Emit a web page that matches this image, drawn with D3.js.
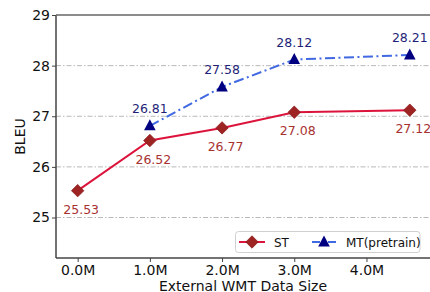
<html>
<head>
  <meta charset="utf-8">
  <script src="https://cdn.jsdelivr.net/npm/d3@7"></script>
  <style>
    body { margin: 0; background: #fff; }
    text { font-family: "DejaVu Sans", sans-serif; }
  </style>
</head>
<body>
<script>
  // data
  const stX = [0, 1, 2, 3, 4.6];
  const stVals = [25.53, 26.52, 26.77, 27.08, 27.12];
  const mtX = [1, 2, 3, 4.6];
  const mtVals = [26.81, 27.58, 28.12, 28.21];
  const xTicks = [0, 1, 2, 3, 4];
  const yTicks = [25, 26, 27, 28, 29];

  const w = 430, h = 292;
  const padL = 56, padT = 15, padB = 258, padR = 430;

  const x = d3.scaleLinear().domain([-0.3, 4.88]).range([padL, padR]);
  const y = d3.scaleLinear().domain([24.2, 29]).range([padB, padT]);

  const svg = d3.select("body").append("svg")
    .attr("width", w).attr("height", h);

  // grid lines (dash-dot)
  svg.selectAll("line.grid")
    .data([25, 26, 27, 28])
    .enter().append("line")
    .attr("class", "grid")
    .attr("x1", padL).attr("x2", padR)
    .attr("y1", d => y(d)).attr("y2", d => y(d))
    .attr("stroke", "#b8b8b8")
    .attr("stroke-width", 1)
    .attr("stroke-dasharray", "5,2,1.5,2");

  // axes
  const xAxis = svg.append("g")
    .attr("transform", "translate(0," + padB + ")")
    .call(d3.axisBottom(x).tickValues(xTicks).tickFormat(d => d.toFixed(1) + "M").tickSize(4).tickPadding(3));
  const yAxis = svg.append("g")
    .attr("transform", "translate(" + padL + ",0)")
    .call(d3.axisLeft(y).tickValues(yTicks).tickFormat(d3.format("d")).tickSize(4).tickPadding(2));
  [xAxis, yAxis].forEach(function(g) {
    g.select(".domain").attr("stroke", "#444").attr("stroke-width", 1.5);
    g.selectAll(".tick line").attr("stroke", "#444");
    g.selectAll(".tick text").attr("font-size", "14px").attr("fill", "#111")
      .attr("font-family", "DejaVu Sans, sans-serif");
  });
  xAxis.select(".domain").attr("d", "M" + padL + ",0H" + padR);
  yAxis.select(".domain").attr("d", "M0," + padT + "V" + padB);

  // top spine
  svg.append("line")
    .attr("x1", padL).attr("x2", padR)
    .attr("y1", padT).attr("y2", padT)
    .attr("stroke", "#666").attr("stroke-width", 1.5);

  // axis labels
  svg.append("text")
    .attr("x", (padL + padR) / 2).attr("y", 290.5)
    .attr("text-anchor", "middle").attr("font-size", "14px").attr("fill", "#111")
    .text("External WMT Data Size");
  svg.append("text")
    .attr("transform", "translate(25," + (padT + padB) / 2 + ") rotate(-90)")
    .attr("text-anchor", "middle").attr("font-size", "14px").attr("fill", "#111")
    .text("BLEU");

  const line = d3.line().x(d => x(d[0])).y(d => y(d[1]));
  const stData = stX.map((d, i) => [d, stVals[i]]);
  const mtData = mtX.map((d, i) => [d, mtVals[i]]);

  // MT line
  svg.append("path")
    .datum(mtData)
    .attr("d", line)
    .attr("fill", "none")
    .attr("stroke", "#4169e1")
    .attr("stroke-width", 2)
    .attr("stroke-dasharray", "10,3.5,2,3.5");

  // ST line
  svg.append("path")
    .datum(stData)
    .attr("d", line)
    .attr("fill", "none")
    .attr("stroke", "#dc143c")
    .attr("stroke-width", 2);

  const diamond = "M0,-6.2L6.2,0L0,6.2L-6.2,0Z";
  const triangle = "M0,-6.5L5.8,4.5L-5.8,4.5Z";

  svg.selectAll("path.mt")
    .data(mtData)
    .enter().append("path")
    .attr("class", "mt")
    .attr("d", triangle)
    .attr("transform", d => "translate(" + x(d[0]) + "," + y(d[1]) + ")")
    .attr("fill", "#000080");

  svg.selectAll("path.st")
    .data(stData)
    .enter().append("path")
    .attr("class", "st")
    .attr("d", diamond)
    .attr("transform", d => "translate(" + x(d[0]) + "," + y(d[1]) + ")")
    .attr("fill", "#9e2424")
    .attr("stroke", "#8b1a1a")
    .attr("stroke-width", 0.8);

  // value labels
  svg.selectAll("text.stlab")
    .data(stData)
    .enter().append("text")
    .attr("class", "stlab")
    .attr("x", d => x(d[0]) + 3.5)
    .attr("y", d => y(d[1]) + 23)
    .attr("text-anchor", "middle")
    .attr("font-size", "12.5px")
    .attr("fill", "#a83232")
    .text(d => d[1].toFixed(2));

  svg.selectAll("text.mtlab")
    .data(mtData)
    .enter().append("text")
    .attr("class", "mtlab")
    .attr("x", d => x(d[0]))
    .attr("y", d => y(d[1]) - 13)
    .attr("text-anchor", "middle")
    .attr("font-size", "12.5px")
    .attr("fill", "#1f1f78")
    .text(d => d[1].toFixed(2));

  // legend
  const lg = svg.append("g");
  lg.append("rect")
    .attr("x", 235.5).attr("y", 231.5).attr("width", 184.5).attr("height", 21)
    .attr("rx", 3).attr("fill", "#fff").attr("fill-opacity", 0.9)
    .attr("stroke", "#d0d0d0");
  lg.append("line")
    .attr("x1", 239).attr("x2", 265).attr("y1", 242).attr("y2", 242)
    .attr("stroke", "#dc143c").attr("stroke-width", 2);
  lg.append("path")
    .attr("d", diamond).attr("transform", "translate(252,242)")
    .attr("fill", "#9e2424").attr("stroke", "#8b1a1a").attr("stroke-width", 0.8);
  lg.append("text")
    .attr("x", 274).attr("y", 246.5).attr("font-size", "12px").attr("fill", "#111").text("ST");
  lg.append("line")
    .attr("x1", 312).attr("x2", 336).attr("y1", 242).attr("y2", 242)
    .attr("stroke", "#4169e1").attr("stroke-width", 2)
    .attr("stroke-dasharray", "8,3,2,3");
  lg.append("path")
    .attr("d", triangle).attr("transform", "translate(324,242)")
    .attr("fill", "#000080");
  lg.append("text")
    .attr("x", 346).attr("y", 246.5).attr("font-size", "12px").attr("fill", "#111").text("MT(pretrain)");
</script>
</body>
</html>
